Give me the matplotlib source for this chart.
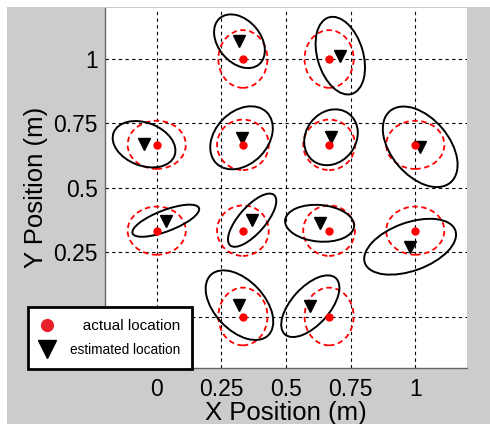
import matplotlib
matplotlib.use("Agg")
import matplotlib.pyplot as plt
from matplotlib.patches import Ellipse, Rectangle
from matplotlib.lines import Line2D

plt.rcParams['font.family'] = ['Liberation Sans', 'DejaVu Sans']

# actual node locations (m)
actual_x = [1/3, 2/3, 0, 1/3, 2/3, 1, 0, 1/3, 2/3, 1, 1/3, 2/3]
actual_y = [1, 1, 2/3, 2/3, 2/3, 2/3, 1/3, 1/3, 1/3, 1/3, 0, 0]

# estimated locations (m)
est_x = [0.320, 0.710, -0.049, 0.328, 0.674, 1.019, 0.035, 0.369, 0.630, 0.980, 0.320, 0.594]
est_y = [1.069, 1.013, 0.669, 0.694, 0.696, 0.659, 0.372, 0.374, 0.362, 0.271, 0.044, 0.040]

# error ellipses of the estimates: width, height (m), angle (deg)
est_w = [0.235, 0.310, 0.252, 0.278, 0.229, 0.363, 0.275, 0.259, 0.268, 0.372, 0.323, 0.294]
est_h = [0.164, 0.177, 0.167, 0.203, 0.194, 0.223, 0.082, 0.103, 0.142, 0.187, 0.193, 0.147]
est_ang = [-50, -73.5, -21, 46, 53, -50, 21, 49, -5, 20, -47, 48]

# bound ellipses round the actual locations
bound_w = [0.19, 0.19, 0.225, 0.2, 0.2, 0.225, 0.225, 0.2, 0.2, 0.225, 0.19, 0.19]
bound_h = [0.224, 0.224, 0.187, 0.196, 0.196, 0.187, 0.187, 0.196, 0.196, 0.187, 0.224, 0.224]

xticks = [0, 0.25, 0.5, 0.75, 1]
xticklabels = ['0', '0.25', '0.5', '0.75', '1']
yticks = [0, 0.25, 0.5, 0.75, 1]
yticklabels = ['', '0.25', '0.5', '0.75', '1']  # "0" sits behind the legend

fig = plt.figure(figsize=(4.9, 4.24), dpi=100)
fig.patch.set_facecolor('white')
# grey figure area (white strip at top / left edge)
fig.patches.append(Rectangle((7/490, 0), 1, (424-7)/424, transform=fig.transFigure,
                             facecolor='#cccccc', edgecolor='none', zorder=-10))

ax = fig.add_axes([105/490, (424-368)/424, (467-105)/490, (368-7.5)/424])
ax.set_facecolor('white')

for i in range(len(actual_x)):
    ax.add_patch(Ellipse((actual_x[i], actual_y[i]), bound_w[i], bound_h[i],
                         fill=False, edgecolor='red', lw=1.3, ls=(0, (3, 2)), zorder=3))
    ax.add_patch(Ellipse((est_x[i], est_y[i]), est_w[i], est_h[i], angle=est_ang[i],
                         fill=False, edgecolor='black', lw=1.4, zorder=3))

ax.plot(est_x, est_y, 'v', color='black', ms=8, zorder=4)
ax.plot(actual_x, actual_y, 'o', color='red', ms=6, mec='none', zorder=5)

ax.set_xlim(-0.2, 1.2)
ax.set_ylim(-0.2, 1.2)
ax.set_xticks(xticks)
ax.set_xticklabels(xticklabels)
ax.set_yticks(yticks)
ax.set_yticklabels(yticklabels)
ax.tick_params(length=0, labelsize=16.5)
ax.tick_params(axis='x', pad=7)
ax.tick_params(axis='y', pad=5)
ax.set_axisbelow(True)
ax.grid(True, color='black', lw=0.8, ls=(0, (3, 3)))

for s in ['top', 'right']:
    ax.spines[s].set_visible(False)
for s in ['left', 'bottom']:
    ax.spines[s].set_color('#666666')
    ax.spines[s].set_linewidth(1.0)

ax.set_xlabel('X Position (m)', fontsize=18.5, labelpad=0)
ax.set_ylabel('Y Position (m)', fontsize=18.5, labelpad=4)

handles = [Line2D([], [], marker='o', ls='none', color='#e8202a', ms=9.5, mec='none'),
           Line2D([], [], marker='v', ls='none', color='black', ms=12.5)]
leg = fig.legend(handles, ['   actual location', 'estimated location'],
                 loc='center', bbox_to_anchor=(110/490, 1-338/424),
                 fancybox=False, framealpha=1, edgecolor='black',
                 handletextpad=1.2, borderpad=0.85, labelspacing=0.75,
                 handlelength=1.0, borderaxespad=0)
leg.get_frame().set_linewidth(2.0)
leg.get_texts()[0].set_fontsize(11)
leg.get_texts()[1].set_fontsize(9.8)
leg.set_zorder(20)

fig.savefig('out.png', dpi=100)
